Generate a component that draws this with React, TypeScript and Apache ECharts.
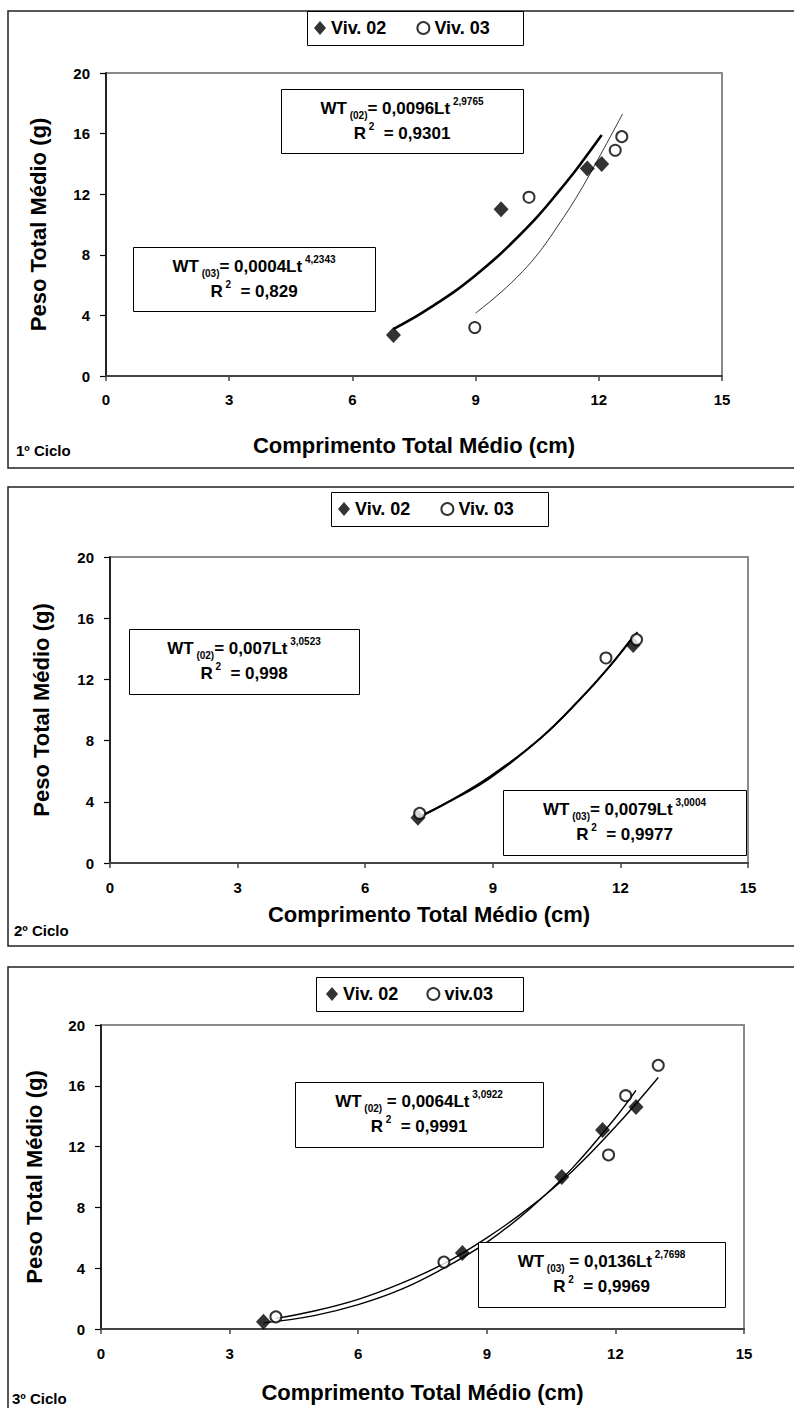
import React, { useEffect, useRef } from "react";
import * as echarts from "echarts";

// ---------- data ----------
const xTicks = [0, 3, 6, 9, 12, 15];
const yTicks = [0, 4, 8, 12, 16, 20];
const cicloLabels = ["1º Ciclo", "2º Ciclo", "3º Ciclo"];
const legendNames02 = ["Viv. 02", "Viv. 02", "Viv. 02"];
const legendNames03 = ["Viv. 03", "Viv. 03", "viv.03"];

// 1º ciclo
const c1Viv02 = [[7.0, 2.7], [9.62, 11.0], [11.72, 13.7], [12.07, 14.0]];
const c1Viv03 = [[8.98, 3.2], [10.3, 11.8], [12.4, 14.9], [12.56, 15.8]];
const c1Trend02 = [[7.0, 3.1], [7.5, 3.85], [8.0, 4.7], [8.5, 5.6], [9.0, 6.65], [9.5, 7.8], [10.0, 9.1], [10.5, 10.5], [11.0, 12.1], [11.5, 13.8], [12.07, 15.9]];
const c1Trend03 = [[9.0, 4.15], [9.5, 5.25], [10.0, 6.5], [10.5, 8.0], [11.0, 9.9], [11.5, 12.0], [12.0, 14.4], [12.58, 17.3]];

// 2º ciclo
const c2Viv02 = [[7.24, 2.95], [12.3, 14.25]];
const c2Viv03 = [[7.28, 3.25], [11.66, 13.4], [12.38, 14.6]];
const c2Trend02 = [[7.24, 2.95], [7.9, 3.9], [8.9, 5.5], [10.1, 8.1], [11.05, 10.7], [11.7, 12.7], [12.3, 14.8]];
const c2Trend03 = [[7.28, 3.05], [7.95, 4.0], [8.95, 5.7], [10.1, 8.1], [11.05, 10.7], [11.7, 12.7], [12.4, 15.1]];

// 3º ciclo
const c3Viv02 = [[3.79, 0.48], [8.43, 5.0], [10.75, 10.0], [11.7, 13.1], [12.48, 14.6]];
const c3Viv03 = [[4.08, 0.8], [8.0, 4.4], [11.84, 11.45], [12.24, 15.35], [13.0, 17.35]];
const c3Trend02 = [[3.79, 0.4], [5, 0.9], [6, 1.6], [7, 2.6], [8, 4.0], [9, 5.7], [10, 7.9], [11, 10.6], [12, 13.9], [12.48, 15.7]];
const c3Trend03 = [[4.08, 0.7], [5, 1.2], [6, 1.95], [7, 3.0], [8, 4.3], [9, 6.0], [10, 8.0], [11, 10.4], [12, 13.3], [13, 16.55]];

// equations
const eq02 = [
  { tag: "(02)", coef: "= 0,0096Lt", exp: "2,9765", r2: "= 0,9301" },
  { tag: "(02)", coef: "= 0,007Lt", exp: "3,0523", r2: "= 0,998" },
  { tag: "(02)", coef: " = 0,0064Lt", exp: "3,0922", r2: "= 0,9991" },
];
const eq03 = [
  { tag: "(03)", coef: "= 0,0004Lt", exp: "4,2343", r2: "= 0,829" },
  { tag: "(03)", coef: "= 0,0079Lt", exp: "3,0004", r2: "= 0,9977" },
  { tag: "(03)", coef: " = 0,0136Lt", exp: "2,7698", r2: "= 0,9969" },
];

const viv02 = [c1Viv02, c2Viv02, c3Viv02];
const viv03 = [c1Viv03, c2Viv03, c3Viv03];
const trend02 = [c1Trend02, c2Trend02, c3Trend02];
const trend03 = [c1Trend03, c2Trend03, c3Trend03];

// ---------- layout ----------
const FONT = '"Liberation Sans", Arial, Helvetica, sans-serif';
const panels = [
  {
    frameTop: 11, frameBottom: 468,
    grid: { left: 106, top: 73, width: 616, height: 303 },
    xNameGap: 58, yNameGap: 57, labelMargin: 16,
    legendBox: { x: 307, y: 11, w: 216, h: 34 }, legendLeft: 314, legendGap: 30,
    box02: { x: 281, y: 89, w: 242, h: 64 },
    box03: { x: 133, y: 247, w: 242, h: 64 },
    ciclo: { x: 16, y: 450 },
    w02: 2.6, w03: 0.8,
  },
  {
    frameTop: 487, frameBottom: 946,
    grid: { left: 110, top: 557, width: 638, height: 306 },
    xNameGap: 40, yNameGap: 58, labelMargin: 17,
    legendBox: { x: 331, y: 492, w: 217, h: 34 }, legendLeft: 338, legendGap: 30,
    box02: { x: 129, y: 629, w: 230, h: 65 },
    box03: { x: 503, y: 790, w: 243, h: 65 },
    ciclo: { x: 14, y: 930 },
    w02: 2, w03: 1.6,
  },
  {
    frameTop: 967, frameBottom: 1440,
    grid: { left: 101, top: 1025, width: 643, height: 304 },
    xNameGap: 52, yNameGap: 56, labelMargin: 17,
    legendBox: { x: 316, y: 977, w: 207, h: 34 }, legendLeft: 326, legendGap: 28,
    box02: { x: 295, y: 1082, w: 248, h: 65 },
    box03: { x: 478, y: 1242, w: 247, h: 65 },
    ciclo: { x: 12, y: 1398 },
    w02: 1.4, w03: 1.4,
  },
];

const rich = {
  m: { fontSize: 17, fontWeight: "bold", fontFamily: FONT, color: "#000", lineHeight: 24, verticalAlign: "middle" },
  s: { fontSize: 10, fontWeight: "bold", fontFamily: FONT, color: "#000", lineHeight: 10, verticalAlign: "bottom" },
  p: { fontSize: 10, fontWeight: "bold", fontFamily: FONT, color: "#000", lineHeight: 10, verticalAlign: "top" },
};

function eqBox(b: { x: number; y: number; w: number; h: number }, e: { tag: string; coef: string; exp: string; r2: string }) {
  const cx = b.x + b.w / 2;
  return [
    {
      type: "rect",
      shape: { x: b.x + 0.5, y: b.y + 0.5, width: b.w, height: b.h },
      style: { fill: "#fff", stroke: "#000", lineWidth: 1 },
      z: 100,
    },
    {
      type: "text",
      x: cx,
      y: b.y + b.h * 0.3,
      z: 101,
      style: {
        text: `{m|WT}{s| ${e.tag}}{m|${e.coef}}{p| ${e.exp}}`,
        rich,
        align: "center",
        verticalAlign: "middle",
      },
    },
    {
      type: "text",
      x: cx,
      y: b.y + b.h * 0.69,
      z: 101,
      style: {
        text: `{m|R}{p| 2}{m|  ${e.r2}}`,
        rich,
        align: "center",
        verticalAlign: "middle",
      },
    },
  ];
}

export default function App() {
  const ref = useRef<HTMLDivElement>(null);

  useEffect(() => {
    if (!ref.current) return;
    const chart = echarts.init(ref.current, null, { renderer: "svg" });

    const grids: any[] = [];
    const xAxes: any[] = [];
    const yAxes: any[] = [];
    const series: any[] = [];
    const legends: any[] = [];
    const graphics: any[] = [];

    panels.forEach((p, i) => {
      grids.push({
        ...p.grid,
        show: true,
        borderColor: "#8a8a8a",
        borderWidth: 2,
        backgroundColor: "transparent",
      });
      xAxes.push({
        type: "value",
        gridIndex: i,
        min: xTicks[0],
        max: xTicks[xTicks.length - 1],
        interval: xTicks[1] - xTicks[0],
        axisLine: { show: true, lineStyle: { color: "#444", width: 2 } },
        axisTick: { show: true, length: 5, lineStyle: { color: "#444", width: 1.5 } },
        axisLabel: { margin: p.labelMargin, fontSize: 15, fontWeight: "bold", color: "#000", fontFamily: FONT },
        splitLine: { show: false },
        name: "Comprimento Total Médio (cm)",
        nameLocation: "middle",
        nameGap: p.xNameGap,
        nameTextStyle: { fontSize: 22, fontWeight: "bold", color: "#000", fontFamily: FONT },
      });
      yAxes.push({
        type: "value",
        gridIndex: i,
        min: yTicks[0],
        max: yTicks[yTicks.length - 1],
        interval: yTicks[1] - yTicks[0],
        axisLine: { show: true, lineStyle: { color: "#000", width: 1.5 } },
        axisTick: { show: true, length: 6, lineStyle: { color: "#000", width: 1.2 } },
        axisLabel: { margin: 16, fontSize: 15, fontWeight: "bold", color: "#000", fontFamily: FONT },
        splitLine: { show: false },
        name: "Peso Total Médio (g)",
        nameLocation: "middle",
        nameGap: p.yNameGap,
        nameTextStyle: { fontSize: 22, fontWeight: "bold", color: "#000", fontFamily: FONT },
      });

      series.push({
        type: "line",
        name: `Tendência 02 - ${cicloLabels[i]}`,
        xAxisIndex: i,
        yAxisIndex: i,
        data: trend02[i],
        smooth: 0.4,
        symbol: "none",
        silent: true,
        lineStyle: { color: "#000", width: p.w02 },
        z: 2,
      });
      series.push({
        type: "line",
        name: `Tendência 03 - ${cicloLabels[i]}`,
        xAxisIndex: i,
        yAxisIndex: i,
        data: trend03[i],
        smooth: 0.4,
        symbol: "none",
        silent: true,
        lineStyle: { color: "#000", width: p.w03 },
        z: 2,
      });
      series.push({
        type: "scatter",
        name: legendNames02[i],
        xAxisIndex: i,
        yAxisIndex: i,
        data: viv02[i],
        symbol: "diamond",
        symbolSize: [15, 16],
        itemStyle: { color: "#000" },
        z: 5,
      });
      series.push({
        type: "scatter",
        name: legendNames03[i],
        xAxisIndex: i,
        yAxisIndex: i,
        data: viv03[i],
        symbol: "circle",
        symbolSize: 11,
        itemStyle: { color: "#fff", borderColor: "#000", borderWidth: 2 },
        z: 6,
      });

      legends.push({
        left: p.legendLeft,
        top: p.legendBox.y + p.legendBox.h / 2 - 9,
        padding: 0,
        itemGap: p.legendGap,
        itemWidth: 12,
        itemHeight: 14,
        itemTextGap: 3,
        selectedMode: false,
        data: [
          { name: legendNames02[i], icon: "diamond" },
          { name: legendNames03[i], icon: "circle" },
        ],
        textStyle: { fontSize: 18, fontWeight: "bold", color: "#000", fontFamily: FONT, lineHeight: 18 },
      });

      graphics.push({
        type: "rect",
        shape: { x: 8, y: p.frameTop, width: 800, height: p.frameBottom - p.frameTop },
        style: { fill: "none", stroke: "#222", lineWidth: 1.5 },
        silent: true,
        z: 0,
      });
      graphics.push({
        type: "rect",
        shape: { x: p.legendBox.x + 0.5, y: p.legendBox.y + 0.5, width: p.legendBox.w, height: p.legendBox.h },
        style: { fill: "none", stroke: "#000", lineWidth: 1 },
        silent: true,
        z: 1,
      });
      graphics.push(...eqBox(p.box02, eq02[i]));
      graphics.push(...eqBox(p.box03, eq03[i]));
      graphics.push({
        type: "text",
        x: p.ciclo.x,
        y: p.ciclo.y,
        style: {
          text: cicloLabels[i],
          fontSize: 15,
          fontWeight: "bold",
          fontFamily: FONT,
          fill: "#000",
          verticalAlign: "middle",
        },
      });
    });

    chart.setOption({
      animation: false,
      backgroundColor: "#fff",
      grid: grids,
      xAxis: xAxes,
      yAxis: yAxes,
      legend: legends,
      series,
      graphic: { elements: graphics },
    });

    return () => chart.dispose();
  }, []);

  return (
    <div
      ref={ref}
      style={{ position: "absolute", left: 0, top: 0, width: 794, height: 1408 }}
    />
  );
}
